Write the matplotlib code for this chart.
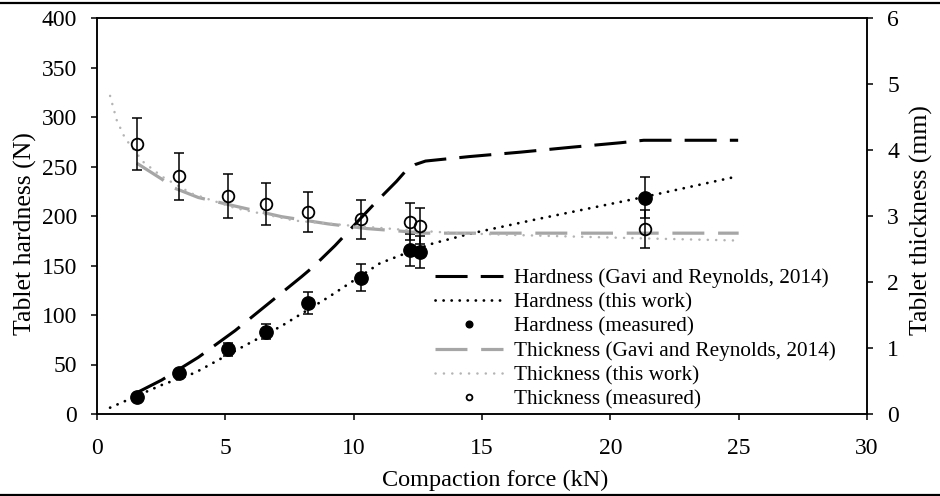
import matplotlib
matplotlib.use("Agg")
import matplotlib.pyplot as plt
from matplotlib.lines import Line2D

plt.rcParams['font.family'] = ['Liberation Serif', 'DejaVu Serif']

# measured points (compaction force in kN)
force_meas = [1.55, 3.19, 5.12, 6.6, 8.23, 10.27, 12.19, 12.58, 21.37]
hard_meas = [17.5, 41.1, 65.3, 83.1, 111.8, 137.7, 165.7, 163.3, 218.5]
hard_err = [3, 3, 6.5, 7.5, 11, 13.5, 16, 16, 21]
thick_meas = [4.09, 3.60, 3.30, 3.18, 3.06, 2.95, 2.91, 2.85, 2.80]
thick_err = [0.40, 0.36, 0.33, 0.32, 0.30, 0.30, 0.28, 0.27, 0.29]

# Gavi and Reynolds (2014) model curves
gavi_hard_x = [1.55, 2.52, 3.95, 5.38, 7.97, 8.43, 9.27, 10.83, 11.67, 12.06, 12.4, 12.8,
               14.5, 16.5, 18.5, 20.4, 21.3, 24.98]
gavi_hard_y = [21.5, 34.3, 57.3, 84.2, 138.7, 148.8, 170, 213, 235, 246.5, 252, 255.5,
               260, 264.5, 269.5, 274, 276.5, 276.5]
gavi_thick_x = [1.55, 2.52, 2.97, 3.95, 5.38, 7.19, 9.01, 10.5, 12.19, 12.6, 14.0, 25.0]
gavi_thick_y = [3.80, 3.56, 3.43, 3.28, 3.15, 2.99, 2.88, 2.81, 2.76, 2.74, 2.74, 2.74]

# this work model curves
tw_hard_x = [0.51, 2.52, 3.82, 5.64, 7.19, 9.01, 11.02, 12.19, 13.1, 14.6, 17.0, 21.37, 24.72]
tw_hard_y = [6.4, 29.3, 41.7, 67.4, 88.9, 117.9, 152.2, 164, 172.4, 182.5, 196, 219.5, 238.7]
tw_thick_x = [0.51, 0.77, 1.09, 1.8, 2.52, 3.69, 5.38, 7.71, 10.0, 12.0, 14.0, 16.48, 21.37, 24.79]
tw_thick_y = [4.82, 4.45, 4.18, 3.82, 3.60, 3.34, 3.12, 2.93, 2.85, 2.79, 2.74, 2.71, 2.66, 2.63]

black_dash = (10.5, 4.3)
grey_dash = (10.0, 4.3)
dark_grey = '#a6a6a6'
light_grey = '#b4b4b4'
fs_tick = 17
fs_xlabel = 17.5
fs_ylabel = 18.5
fs_leg = 15.3

fig = plt.figure(figsize=(9.4, 4.96), dpi=100)
ax = fig.add_axes([97 / 940, 1 - 414 / 496, 770 / 940, 396 / 496])
ax2 = ax.twinx()

l1, = ax.plot(gavi_hard_x, gavi_hard_y, color='black', lw=2.2, dashes=black_dash,
              label='Hardness (Gavi and Reynolds, 2014)')
l2, = ax.plot(tw_hard_x, tw_hard_y, color='black', lw=2.0, dashes=(0.05, 2.85),
              dash_capstyle='round', label='Hardness (this work)')
ax.errorbar(force_meas, hard_meas, yerr=hard_err, fmt='none', ecolor='black',
            elinewidth=1.1, capsize=3.8, capthick=1.1)
l3, = ax.plot(force_meas, hard_meas, 'o', ms=9.6, color='black', label='Hardness (measured)')

l4, = ax2.plot(gavi_thick_x, gavi_thick_y, color=dark_grey, lw=2.3, dashes=grey_dash,
               label='Thickness (Gavi and Reynolds, 2014)')
l5, = ax2.plot(tw_thick_x, tw_thick_y, color=light_grey, lw=1.8, dashes=(0.05, 3.3),
               dash_capstyle='round', label='Thickness (this work)')
ax2.errorbar(force_meas, thick_meas, yerr=thick_err, fmt='none', ecolor='black',
             elinewidth=1.1, capsize=3.8, capthick=1.1)
l6, = ax2.plot(force_meas, thick_meas, 'o', ms=8.4, mfc='none', mec='black', mew=1.3,
               label='Thickness (measured)')

ax.set_xlim(0, 30)
ax.set_ylim(0, 400)
ax2.set_ylim(0, 6)
ax.set_xticks(range(0, 31, 5))
ax.set_yticks(range(0, 401, 50))
ax2.set_yticks(range(0, 7))

for a in (ax, ax2):
    for s in a.spines.values():
        s.set_linewidth(1.1)
ax.tick_params(axis='x', direction='out', length=4.5, width=1.1, labelsize=fs_tick, pad=13)
ax.tick_params(axis='y', direction='out', length=4.5, width=1.1, labelsize=fs_tick, pad=10)
ax2.tick_params(axis='y', direction='out', length=4.5, width=1.1, labelsize=fs_tick, pad=10)

ax.set_xlabel('Compaction force (kN)', fontsize=fs_xlabel)
ax.xaxis.set_label_coords(0.517, -0.14)
ax.set_ylabel('Tablet hardness (N)', fontsize=fs_ylabel)
ax.yaxis.set_label_coords(-0.078, 0.455)
ax2.set_ylabel('Tablet thickness (mm)', fontsize=fs_ylabel)
ax2.yaxis.set_label_coords(1.056, 0.49)

leg = ax2.legend(handles=[l1, l2, l3, l4, l5, l6], loc='upper left',
                 bbox_to_anchor=(0.439, 0.368), frameon=False, fontsize=fs_leg,
                 borderpad=0, borderaxespad=0, labelspacing=0.21, handlelength=3.2,
                 handletextpad=0.5, markerscale=0.5)

# table rules above and below the figure
fig.add_artist(Line2D([0, 1], [1 - 2.5 / 496, 1 - 2.5 / 496], transform=fig.transFigure,
                      color='black', lw=1.6))
fig.add_artist(Line2D([0, 1], [1 - 494.5 / 496, 1 - 494.5 / 496], transform=fig.transFigure,
                      color='black', lw=1.6))

fig.savefig('out.png', dpi=100)
